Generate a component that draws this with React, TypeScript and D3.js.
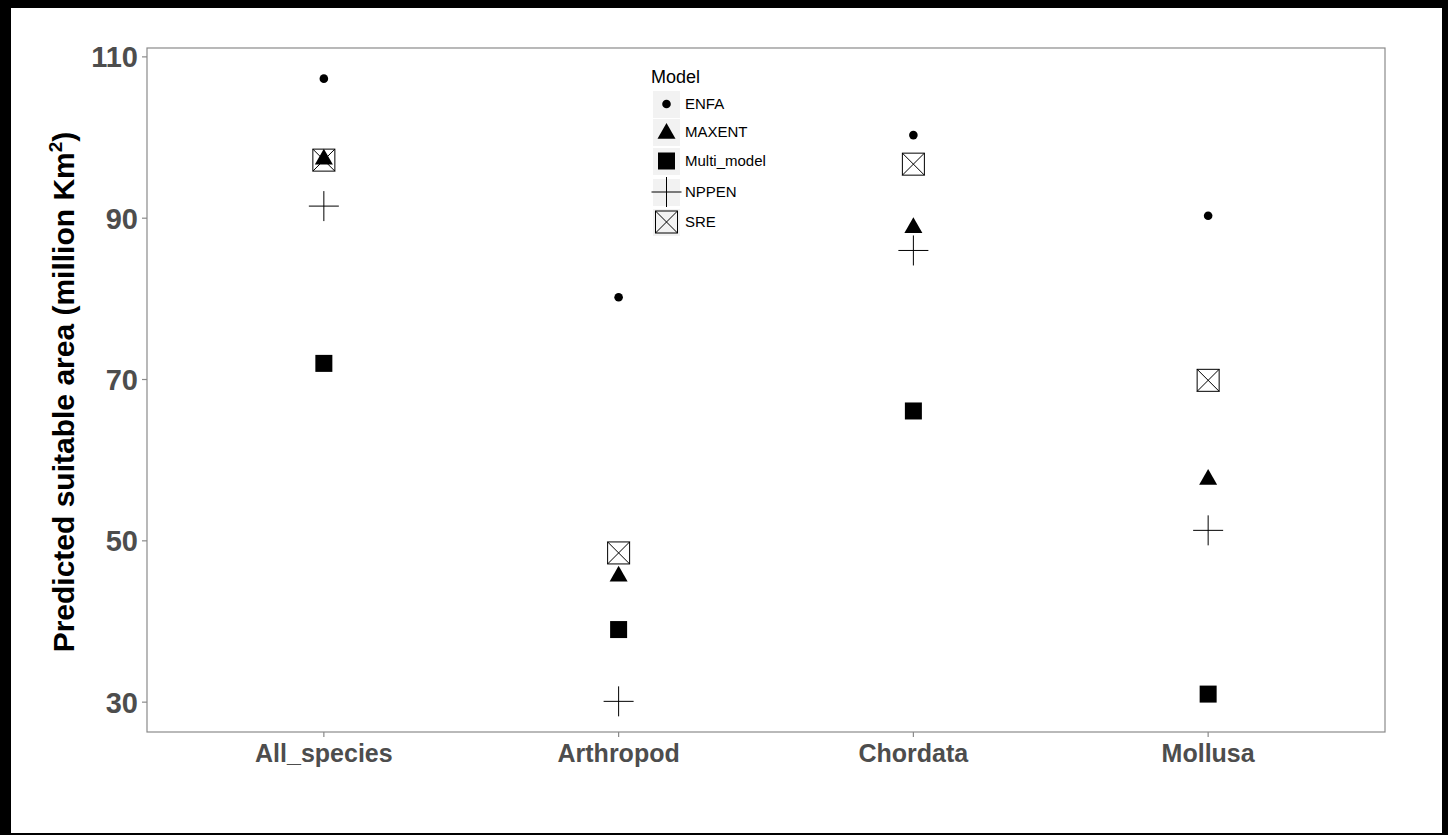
import React from 'react';
import * as d3 from 'd3';

const categories = ['All_species', 'Arthropod', 'Chordata', 'Mollusa'];
const models = ['ENFA', 'MAXENT', 'Multi_model', 'NPPEN', 'SRE'];

const enfa = [107.3, 80.2, 100.3, 90.3];
const maxent = [97.5, 45.8, 89.0, 57.8];
const multiModel = [72.0, 39.0, 66.1, 31.0];
const nppen = [91.5, 30.1, 86.0, 51.3];
const sre = [97.2, 48.5, 96.7, 69.9];

const yTicks = [30, 50, 70, 90, 110];

const W = 1448;
const H = 835;
const PANEL = { left: 147, top: 48, right: 1385, bottom: 732 };
const FONT = '"Liberation Sans", Arial, Helvetica, sans-serif';

const seriesByModel: Record<string, number[]> = {
    ENFA: enfa,
    MAXENT: maxent,
    Multi_model: multiModel,
    NPPEN: nppen,
    SRE: sre
};

function Marker({ model, x, y }: { model: string; x: number; y: number }) {
    if (model === 'ENFA') {
        return <circle cx={x} cy={y} r={4.3} fill="#000" />;
    }
    if (model === 'MAXENT') {
        const s = 9;
        return <path d={`M${x},${y - s}L${x + s},${y + s * 0.75}L${x - s},${y + s * 0.75}Z`} fill="#000" />;
    }
    if (model === 'Multi_model') {
        return <rect x={x - 8.5} y={y - 8.5} width={17} height={17} fill="#000" />;
    }
    if (model === 'NPPEN') {
        return (
            <g stroke="#000" strokeWidth={1}>
                <line x1={x - 15} x2={x + 15} y1={y} y2={y} />
                <line x1={x} x2={x} y1={y - 15} y2={y + 15} />
            </g>
        );
    }
    // SRE: crossed box
    const s = 11;
    return (
        <g stroke="#000" strokeWidth={1} fill="none">
            <rect x={x - s} y={y - s} width={2 * s} height={2 * s} />
            <line x1={x - s} y1={y - s} x2={x + s} y2={y + s} />
            <line x1={x - s} y1={y + s} x2={x + s} y2={y - s} />
        </g>
    );
}

export default function App() {
    const x = d3.scalePoint<string>()
        .domain(categories)
        .range([PANEL.left, PANEL.right])
        .padding(0.6);

    const y = d3.scaleLinear()
        .domain([26.3, 111.1])
        .range([PANEL.bottom, PANEL.top]);

    const legendX = 653;
    const legendRows = [104, 132, 161, 192, 222];

    return (
        <div style={{ position: 'absolute', left: 0, top: 0 }}>
            <svg width={W} height={H} style={{ display: 'block' }}>
                <rect width={W} height={H} fill="#000" />
                <rect x={11} y={8} width={1431} height={825} fill="#fff" />

                <rect
                    x={PANEL.left}
                    y={PANEL.top}
                    width={PANEL.right - PANEL.left}
                    height={PANEL.bottom - PANEL.top}
                    fill="#fff"
                    stroke="#8a8a8a"
                    strokeWidth={1.2}
                />

                {yTicks.map(t => (
                    <g key={t}>
                        <line x1={PANEL.left - 5} x2={PANEL.left} y1={y(t)} y2={y(t)} stroke="#8a8a8a" strokeWidth={1.2} />
                        <text
                            x={PANEL.left - 9}
                            y={y(t)}
                            dy="0.36em"
                            textAnchor="end"
                            fontFamily={FONT}
                            fontWeight="bold"
                            fontSize={29}
                            fill="#4d4d4d"
                        >
                            {t}
                        </text>
                    </g>
                ))}

                {categories.map(c => (
                    <g key={c}>
                        <line x1={x(c)} x2={x(c)} y1={PANEL.bottom} y2={PANEL.bottom + 5} stroke="#8a8a8a" strokeWidth={1.2} />
                        <text
                            x={x(c)}
                            y={PANEL.bottom + 30}
                            textAnchor="middle"
                            fontFamily={FONT}
                            fontWeight="bold"
                            fontSize={25}
                            fill="#4d4d4d"
                        >
                            {c}
                        </text>
                    </g>
                ))}

                <text
                    transform={`translate(74, ${(PANEL.top + PANEL.bottom) / 2 + 2}) rotate(-90)`}
                    textAnchor="middle"
                    fontFamily={FONT}
                    fontWeight="bold"
                    fontSize={30}
                    fill="#000"
                >
                    Predicted suitable area (million Km
                    <tspan dy={-12} fontSize={19}>2</tspan>
                    <tspan dy={12}>)</tspan>
                </text>

                {models.map(m =>
                    seriesByModel[m].map((v, i) => (
                        <Marker key={m + i} model={m} x={x(categories[i]) as number} y={y(v)} />
                    ))
                )}

                <g>
                    <text x={651} y={83} fontFamily={FONT} fontSize={18} fill="#000">Model</text>
                    {models.map((m, i) => (
                        <g key={m}>
                            <rect x={legendX} y={legendRows[i] - 13} width={27} height={27} fill="#f2f2f2" />
                            <Marker model={m} x={legendX + 13.5} y={legendRows[i]} />
                            <text
                                x={legendX + 32}
                                y={legendRows[i]}
                                dy="0.36em"
                                fontFamily={FONT}
                                fontSize={15}
                                fill="#000"
                            >
                                {m}
                            </text>
                        </g>
                    ))}
                </g>
            </svg>
        </div>
    );
}
